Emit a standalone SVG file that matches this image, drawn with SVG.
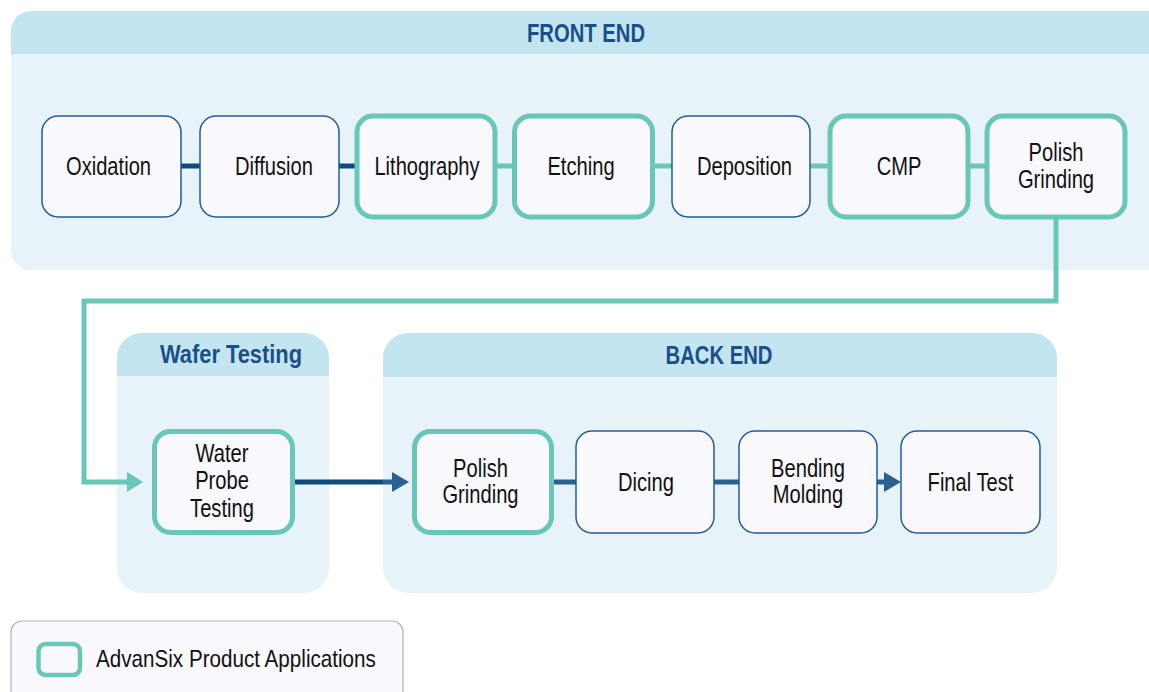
<svg xmlns="http://www.w3.org/2000/svg" width="1149" height="692" viewBox="0 0 1149 692">
<style>
.hdr{fill:#c3e5f0}
.body{fill:#e7f3f9}
.node{fill:#f9f8fc;stroke:#1f5c99;stroke-width:1.5}
.adv{fill:#f9f8fc;stroke:#69c7b9;stroke-width:5}
.t{font-family:"Liberation Sans",Arial,sans-serif;font-size:25.5px;fill:#111;text-anchor:middle}
.title{font-family:"Liberation Sans",Arial,sans-serif;font-size:25px;font-weight:bold;fill:#1b4f8c;text-anchor:middle}
.dark{stroke:#0f4c7d;stroke-width:5;fill:none}
.mid{stroke:#2b6191;stroke-width:5;fill:none}
.teal{stroke:#69c7b9;stroke-width:5;fill:none}
</style>
<rect width="1149" height="692" fill="#ffffff"/>

<g id="front-end">
<rect x="11" y="11" width="1180" height="259" rx="20" class="body"/>
<path d="M11 54 V31 A20 20 0 0 1 31 11 H1191 V54 Z" class="hdr"/>
<text class="title" transform="translate(586,42) scale(0.81,1)">FRONT END</text>
</g>

<g id="wafer-testing">
<rect x="117" y="333" width="212" height="260" rx="25" class="body"/>
<path d="M117 376 V358 A25 25 0 0 1 142 333 H304 A25 25 0 0 1 329 358 V376 Z" class="hdr"/>
<text class="title" x="231" y="363" textLength="142" lengthAdjust="spacingAndGlyphs">Wafer Testing</text>
</g>

<g id="back-end">
<rect x="383" y="333" width="674" height="260" rx="25" class="body"/>
<path d="M383 377 V358 A25 25 0 0 1 408 333 H1032 A25 25 0 0 1 1057 358 V377 Z" class="hdr"/>
<text class="title" transform="translate(719,364) scale(0.81,1)">BACK END</text>
</g>

<g id="connectors">
<line x1="181" y1="166" x2="200" y2="166" class="dark"/>
<line x1="339" y1="166" x2="357" y2="166" class="dark"/>
<line x1="495" y1="166" x2="515" y2="166" class="teal"/>
<line x1="652" y1="166" x2="672" y2="166" class="teal"/>
<line x1="810" y1="166" x2="830" y2="166" class="teal"/>
<line x1="968" y1="166" x2="987" y2="166" class="teal"/>
<path d="M1056 219 V301 H84 V482 H129" class="teal" stroke-width="4.5"/>
<polygon points="127,472 143,482 127,492" fill="#69c7b9"/>
<line x1="293" y1="482" x2="383" y2="482" class="dark"/>
<line x1="383" y1="482" x2="394" y2="482" class="mid"/>
<polygon points="392,472 409,482 392,492" fill="#2b6191"/>
<line x1="553" y1="482" x2="576" y2="482" class="mid"/>
<line x1="714" y1="482" x2="739" y2="482" class="mid"/>
<line x1="877" y1="482" x2="886" y2="482" class="mid"/>
<polygon points="884,472 901,482 884,492" fill="#2b6191"/>
</g>

<g id="oxidation"><rect x="42" y="116" width="139" height="101" rx="16" class="node"/><text class="t" transform="translate(108.5,175) scale(0.79,1)">Oxidation</text></g>
<g id="diffusion"><rect x="200" y="116" width="139" height="101" rx="16" class="node"/><text class="t" transform="translate(274,175) scale(0.79,1)">Diffusion</text></g>
<g id="lithography"><rect x="357" y="116" width="138" height="101" rx="16" class="adv"/><text class="t" transform="translate(427,175) scale(0.79,1)">Lithography</text></g>
<g id="etching"><rect x="514.5" y="116" width="138" height="101" rx="16" class="adv"/><text class="t" transform="translate(581,175) scale(0.79,1)">Etching</text></g>
<g id="deposition"><rect x="672" y="116" width="138" height="101" rx="16" class="node"/><text class="t" transform="translate(744.5,175) scale(0.79,1)">Deposition</text></g>
<g id="cmp"><rect x="830" y="116" width="138" height="101" rx="16" class="adv"/><text class="t" transform="translate(899,175) scale(0.79,1)">CMP</text></g>
<g id="polish-grinding-front"><rect x="987" y="116" width="138" height="101" rx="16" class="adv"/><text class="t" transform="translate(1056,161) scale(0.79,1)"><tspan x="0" y="0">Polish</tspan><tspan x="0" y="27">Grinding</tspan></text></g>

<g id="water-probe-testing"><rect x="154.5" y="431.5" width="138" height="101" rx="16" class="adv"/><text class="t" transform="translate(222,462) scale(0.79,1)"><tspan x="0" y="0">Water</tspan><tspan x="0" y="27.5">Probe</tspan><tspan x="0" y="55">Testing</tspan></text></g>
<g id="polish-grinding-back"><rect x="414.5" y="431.5" width="137" height="101" rx="16" class="adv"/><text class="t" transform="translate(480.5,476.5) scale(0.79,1)"><tspan x="0" y="0">Polish</tspan><tspan x="0" y="27">Grinding</tspan></text></g>
<g id="dicing"><rect x="576" y="431" width="138" height="102" rx="16" class="node"/><text class="t" transform="translate(646,490.5) scale(0.79,1)">Dicing</text></g>
<g id="bending-molding"><rect x="739" y="431" width="138" height="102" rx="16" class="node"/><text class="t" transform="translate(808,476.5) scale(0.79,1)"><tspan x="0" y="0">Bending</tspan><tspan x="0" y="27">Molding</tspan></text></g>
<g id="final-test"><rect x="901" y="431" width="139" height="102" rx="16" class="node"/><text class="t" transform="translate(970.5,490.5) scale(0.79,1)">Final Test</text></g>

<g id="legend">
<rect x="11" y="621" width="392" height="90" rx="11" fill="#f9f8fc" stroke="#b3b3b3" stroke-width="1.2"/>
<rect x="38.5" y="644" width="41.5" height="31" rx="7" fill="none" stroke="#69c7b9" stroke-width="4.5"/>
<text transform="translate(96,667) scale(0.86,1)" font-family="'Liberation Sans',Arial,sans-serif" font-size="24" fill="#111">AdvanSix Product Applications</text>
</g>
</svg>
